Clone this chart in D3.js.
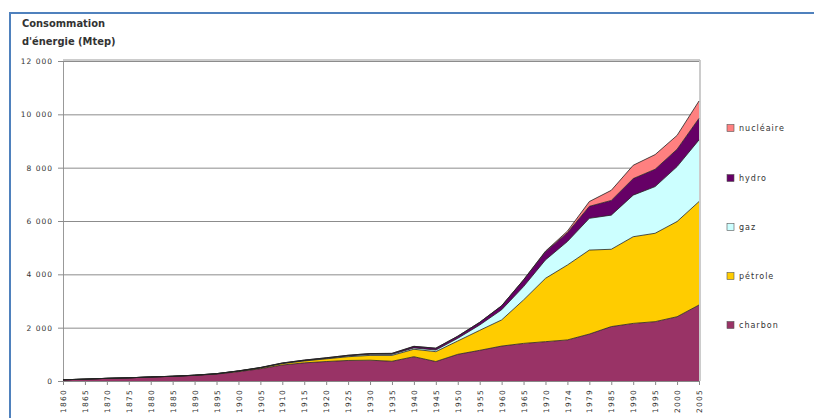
<!DOCTYPE html>
<html><head><meta charset="utf-8">
<script src="https://cdn.jsdelivr.net/npm/d3@7"></script>
<style>
html,body{margin:0;padding:0;background:#fff;}
svg{display:block;}
</style></head>
<body>
<svg id="c" width="814" height="418"></svg>
<script>
const years = ["1860","1865","1870","1875","1880","1885","1890","1895","1900","1905","1910","1915","1920","1925","1930","1935","1940","1945","1950","1955","1960","1965","1970","1974","1979","1985","1990","1995","2000","2005"];
const charbon  = [45,70,100,120,150,175,210,260,350,460,600,680,730,770,780,740,910,730,1000,1150,1310,1410,1475,1540,1760,2040,2160,2225,2410,2850];
const petrole  = [0,0,0,0,2,3,5,10,20,30,50,70,100,140,180,220,280,370,500,750,980,1630,2375,2810,3150,2900,3250,3315,3570,3880];
const gaz      = [0,0,0,0,0,0,2,4,5,8,15,18,20,30,40,40,50,60,100,200,380,500,690,880,1190,1280,1560,1750,2060,2310];
const hydro    = [0,0,0,0,0,0,1,2,5,8,10,15,20,25,30,35,60,70,80,100,150,250,310,330,450,550,620,650,650,810];
const nucleaire= [0,0,0,0,0,0,0,0,0,0,0,0,0,0,0,0,0,0,0,0,0,5,20,60,180,380,500,550,520,650];
const yTicks = [0,2000,4000,6000,8000,10000,12000];
const seriesNames = ["charbon","pétrole","gaz","hydro","nucléaire"];
const seriesVals = [charbon, petrole, gaz, hydro, nucleaire];
const colors = ["#993366","#FFCC00","#CCFFFF","#660066","#FF8080"];

const svg = d3.select("#c");
// blue frame
svg.append("line").attr("x1",10).attr("x2",814).attr("y1",13).attr("y2",13).attr("stroke","#4f81bd").attr("stroke-width",2);
svg.append("line").attr("x1",10).attr("x2",10).attr("y1",12).attr("y2",418).attr("stroke","#4f81bd").attr("stroke-width",2);

// title
const tf = "'Liberation Sans Narrow', 'DejaVu Sans Condensed', sans-serif";
svg.append("text").attr("x",22).attr("y",27).attr("font-family",tf).attr("font-weight","bold").attr("font-size",11).attr("fill","#333").text("Consommation");
svg.append("text").attr("x",22).attr("y",45).attr("font-family",tf).attr("font-weight","bold").attr("font-size",11).attr("fill","#333").text("d'énergie (Mtep)");

const L = 63, R = 699, T = 61, B = 381;
const x = d3.scalePoint().domain(years).range([L, R]).padding(0);
const y = d3.scaleLinear().domain([0,12000]).range([B, T]);

// plot border
svg.append("line").attr("x1",L).attr("x2",R+1).attr("y1",T-1).attr("y2",T-1).attr("stroke","#bbb").attr("stroke-width",1.5);
svg.append("line").attr("x1",R+1).attr("x2",R+1).attr("y1",T-1).attr("y2",B).attr("stroke","#bbb").attr("stroke-width",1.5);

// gridlines
const gy = d3.axisLeft(y).tickValues(yTicks).tickSize(-(R-L)).tickFormat(d => d3.format(",")(d).replace(/,/g," "));
const gAxis = svg.append("g").attr("transform",`translate(${L},0)`).call(gy);
gAxis.select(".domain").attr("stroke","#999");
gAxis.selectAll(".tick line").attr("stroke","#8c8c8c").attr("stroke-width",1);
gAxis.selectAll(".tick text").attr("x",-10).attr("font-family","'DejaVu Sans', sans-serif").attr("font-size",7.5).attr("letter-spacing","1px").attr("fill","#333");
gAxis.selectAll(".tick").append("line").attr("x1",-5).attr("x2",0).attr("stroke","#8c8c8c");

// stack
const table = years.map((yr,i) => {
  const o = {year: yr};
  seriesNames.forEach((n,k) => o[n] = seriesVals[k][i]);
  return o;
});
const stack = d3.stack().keys(seriesNames)(table);
const area = d3.area().x(d => x(d.data.year)).y0(d => y(d[0])).y1(d => y(d[1]));
const topLine = d3.line().x(d => x(d.data.year)).y(d => y(d[1]));
svg.append("g").selectAll("path").data(stack).join("path")
  .attr("d", area).attr("fill", (d,i) => colors[i]);
svg.append("g").selectAll("path").data(stack).join("path")
  .attr("d", topLine).attr("fill","none").attr("stroke","#222").attr("stroke-width",0.8);

// x axis
const xa = d3.axisBottom(x).tickSize(4);
const xg = svg.append("g").attr("transform",`translate(0,${B})`).call(xa);
xg.select(".domain").attr("stroke","#888");
xg.selectAll(".tick line").attr("stroke","#888");
xg.selectAll(".tick text")
  .attr("transform","rotate(-90)")
  .attr("x",-8).attr("y",0).attr("dy","0.35em")
  .attr("text-anchor","end")
  .attr("font-family","'DejaVu Sans', sans-serif").attr("font-size",7.5).attr("letter-spacing","1.2px").attr("fill","#333");

// legend
const legY = [325,276,227,178,128];
const lg = svg.append("g");
seriesNames.forEach((n,i) => {
  lg.append("rect").attr("x",727).attr("y",legY[i]-3.5).attr("width",7).attr("height",7)
    .attr("fill",colors[i]).attr("stroke","#555").attr("stroke-width",0.6);
  lg.append("text").attr("x",739).attr("y",legY[i]).attr("dy","0.35em")
    .attr("font-family","'DejaVu Sans', sans-serif").attr("font-size",8).attr("letter-spacing","1px").attr("fill","#333").text(n);
});
</script>
</body></html>
